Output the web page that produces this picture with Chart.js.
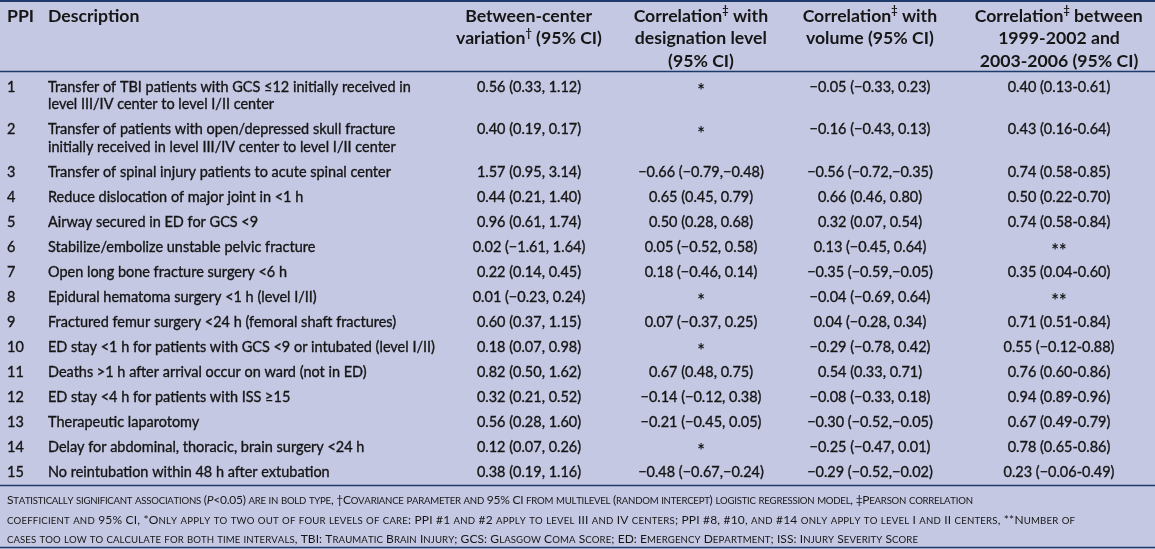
<!DOCTYPE html>
<html>
<head>
<meta charset="utf-8">
<script src="https://cdn.jsdelivr.net/npm/chart.js@4.4.1/dist/chart.umd.min.js"></script>
<style>
  html, body { margin: 0; padding: 0; background: #c5c8e3; overflow: hidden; }
  #wrap { width: 1155px; height: 549px; }
  canvas { display: block; }
</style>
</head>
<body>
<div id="wrap"><canvas id="c" width="1155" height="549"></canvas></div>
<script>
// ---------------- DATA ----------------
const ppiLabels = ['1','2','3','4','5','6','7','8','9','10','11','12','13','14','15'];
const descriptions = [
  'Transfer of TBI patients with GCS \u226412 initially received in\nlevel III/IV center to level I/II center',
  'Transfer of patients with open/depressed skull fracture\ninitially received in level III/IV center to level I/II center',
  'Transfer of spinal injury patients to acute spinal center',
  'Reduce dislocation of major joint in <1 h',
  'Airway secured in ED for GCS <9',
  'Stabilize/embolize unstable pelvic fracture',
  'Open long bone fracture surgery <6 h',
  'Epidural hematoma surgery <1 h (level I/II)',
  'Fractured femur surgery <24 h (femoral shaft fractures)',
  'ED stay <1 h for patients with GCS <9 or intubated (level I/II)',
  'Deaths >1 h after arrival occur on ward (not in ED)',
  'ED stay <4 h for patients with ISS \u226515',
  'Therapeutic laparotomy',
  'Delay for abdominal, thoracic, brain surgery <24 h',
  'No reintubation within 48 h after extubation'
];
const columnHeaders = [
  ['PPI'],
  ['Description'],
  ['Between-center', 'variation\u2020 (95% CI)'],
  ['Correlation\u2021 with', 'designation level', '(95% CI)'],
  ['Correlation\u2021 with', 'volume (95% CI)'],
  ['Correlation\u2021 between', '1999-2002 and', '2003-2006 (95% CI)']
];
const betweenEst = [0.56, 0.40, 1.57, 0.44, 0.96, 0.02, 0.22, 0.01, 0.60, 0.18, 0.82, 0.32, 0.56, 0.12, 0.38];
const betweenLo  = [0.33, 0.19, 0.95, 0.21, 0.61, -1.61, 0.14, -0.23, 0.37, 0.07, 0.50, 0.21, 0.28, 0.07, 0.19];
const betweenHi  = [1.12, 0.17, 3.14, 1.40, 1.74, 1.64, 0.45, 0.24, 1.15, 0.98, 1.62, 0.52, 1.60, 0.26, 1.16];
const designationEst = [null, null, -0.66, 0.65, 0.50, 0.05, 0.18, null, 0.07, null, 0.67, -0.14, -0.21, null, -0.48];
const designationLo  = [null, null, -0.79, 0.45, 0.28, -0.52, -0.46, null, -0.37, null, 0.48, -0.12, -0.45, null, -0.67];
const designationHi  = [null, null, -0.48, 0.79, 0.68, 0.58, 0.14, null, 0.25, null, 0.75, 0.38, 0.05, null, -0.24];
const volumeEst = [-0.05, -0.16, -0.56, 0.66, 0.32, 0.13, -0.35, -0.04, 0.04, -0.29, 0.54, -0.08, -0.30, -0.25, -0.29];
const volumeLo  = [-0.33, -0.43, -0.72, 0.46, 0.07, -0.45, -0.59, -0.69, -0.28, -0.78, 0.33, -0.33, -0.52, -0.47, -0.52];
const volumeHi  = [0.23, 0.13, -0.35, 0.80, 0.54, 0.64, -0.05, 0.64, 0.34, 0.42, 0.71, 0.18, -0.05, 0.01, -0.02];
const periodEst = [0.40, 0.43, 0.74, 0.50, 0.74, null, 0.35, null, 0.71, 0.55, 0.76, 0.94, 0.67, 0.78, 0.23];
const periodLo  = [0.13, 0.16, 0.58, 0.22, 0.58, null, 0.04, null, 0.51, -0.12, 0.60, 0.89, 0.49, 0.65, -0.06];
const periodHi  = [0.61, 0.64, 0.85, 0.70, 0.84, null, 0.60, null, 0.84, 0.88, 0.86, 0.96, 0.79, 0.86, 0.49];
const footnoteLines = [
  'Statistically significant associations (_P_<0.05) are in bold type, \u2020Covariance parameter and 95% CI from multilevel (random intercept) logistic regression model, \u2021Pearson correlation',
  'coefficient and 95% CI, *Only apply to two out of four levels of care: PPI #1 and #2 apply to level III and IV centers; PPI #8, #10, and #14 only apply to level I and II centers, **Number of',
  'cases too low to calculate for both time intervals, TBI: Traumatic Brain Injury; GCS: Glasgow Coma Score; ED: Emergency Department; ISS: Injury Severity Score'
];

// ---------------- LAYOUT / STYLE ----------------
const W = 1155, H = 549;
const BG = '#c5c8e3';
const RULE = '#1d3a6b';
const INK = '#161616';
const FAMILY = 'Lato, "Open Sans", sans-serif';
const colAnchor = [7, 48, 529, 701, 870, 1059];
const colAlign  = ['left', 'left', 'center', 'center', 'center', 'center'];
const headerLineY = [16, 38.5, 61];
const firstRowY = 87, innerLineGap = 17.5, rowGap = 25;
const rules = [{y: 1, w: 2}, {y: 71.5, w: 1.3}, {y: 485.5, w: 1.6}, {y: 547.5, w: 1.6}];
const footBaseline = [504, 523.5, 543];
const footLineWidths = [966, 1068, 911];

function fmt(v) { return (v < 0 ? '\u2212' : '') + Math.abs(v).toFixed(2); }
function ciText(e, lo, hi, missing) {
  if (e === null) return missing;
  return fmt(e) + ' (' + fmt(lo) + ',' + (hi < 0 ? '' : ' ') + fmt(hi) + ')';
}
function rangeText(e, lo, hi, missing) {
  if (e === null) return missing;
  return fmt(e) + ' (' + fmt(lo) + '-' + fmt(hi) + ')';
}

const rowLines = [];
(function () {
  let y = firstRowY;
  descriptions.forEach(d => {
    const n = d.split('\n').length;
    const lines = [];
    for (let k = 0; k < n; k++) lines.push(y + k * innerLineGap);
    rowLines.push(lines);
    y = lines[lines.length - 1] + rowGap;
  });
})();

const cellColumns = [
  i => ppiLabels[i],
  i => descriptions[i],
  i => ciText(betweenEst[i], betweenLo[i], betweenHi[i], '*'),
  i => ciText(designationEst[i], designationLo[i], designationHi[i], '*'),
  i => ciText(volumeEst[i], volumeLo[i], volumeHi[i], '*'),
  i => rangeText(periodEst[i], periodLo[i], periodHi[i], '**')
];

// ---------------- DRAW HELPERS ----------------
function fitSize(ctx, text, target, weight) {
  ctx.font = weight + ' 100px ' + FAMILY;
  return 100 * target / ctx.measureText(text).width;
}
function richWidth(ctx, text, size, weight) {
  let w = 0;
  for (const ch of text) {
    const sup = (ch === '\u2020' || ch === '\u2021');
    ctx.font = weight + ' ' + (sup ? size * 0.62 : size) + 'px ' + FAMILY;
    w += ctx.measureText(ch).width;
  }
  return w;
}
function drawRich(ctx, text, x, y, size, weight, align) {
  const total = richWidth(ctx, text, size, weight);
  let cx = align === 'center' ? x - total / 2 : x;
  ctx.textAlign = 'left';
  let buf = '';
  const flush = () => {
    if (!buf) return;
    ctx.font = weight + ' ' + size + 'px ' + FAMILY;
    ctx.fillText(buf, cx, y);
    cx += ctx.measureText(buf).width;
    buf = '';
  };
  for (const ch of text) {
    if (ch === '\u2020' || ch === '\u2021') {
      flush();
      ctx.font = weight + ' ' + size * 0.62 + 'px ' + FAMILY;
      ctx.fillText(ch, cx, y - size * 0.3);
      cx += ctx.measureText(ch).width;
    } else buf += ch;
  }
  flush();
}
function smallCapsRuns(text) {
  const runs = [];
  text.split('_').forEach((p, idx) => {
    const italic = idx % 2 === 1;
    const re = /([a-z]+)|([^a-z]+)/g; let m;
    while ((m = re.exec(p))) runs.push({t: m[1] ? m[1].toUpperCase() : m[2], small: !!m[1], italic});
  });
  return runs;
}
// returns {width, chars} (natural width without extra spacing); draws when draw=true
function drawSmallCaps(ctx, text, x, y, big, ratio, draw, extra) {
  let cx = x, chars = 0;
  for (const r of smallCapsRuns(text)) {
    ctx.font = (r.italic ? 'italic ' : '') + '400 ' + (r.small ? big * ratio : big) + 'px ' + FAMILY;
    for (const ch of r.t) {
      if (draw) ctx.fillText(ch, cx, y);
      cx += ctx.measureText(ch).width + (extra || 0);
      chars++;
    }
  }
  return {width: cx - x, chars};
}

// ---------------- PLUGIN ----------------
const tablePlugin = {
  id: 'tableText',
  beforeDraw(chart) {
    const ctx = chart.ctx;
    ctx.save();
    ctx.fillStyle = BG;
    ctx.fillRect(0, 0, chart.width, chart.height);
    ctx.restore();
  },
  afterDraw(chart) {
    const ctx = chart.ctx;
    const X = v => chart.scales.x.getPixelForValue(v);
    const Y = v => chart.scales.y.getPixelForValue(v);
    ctx.save();

    ctx.strokeStyle = RULE;
    rules.forEach(r => {
      ctx.lineWidth = r.w;
      ctx.beginPath();
      ctx.moveTo(X(0), Y(r.y));
      ctx.lineTo(X(W), Y(r.y));
      ctx.stroke();
    });

    ctx.fillStyle = INK;
    ctx.strokeStyle = INK;
    ctx.textBaseline = 'middle';

    // header
    const hSize = fitSize(ctx, 'Between-center', 127, '700');
    columnHeaders.forEach((lines, c) => {
      lines.forEach((t, k) => drawRich(ctx, t, X(colAnchor[c]), Y(headerLineY[k]), hSize, '700', colAlign[c]));
    });

    // body
    const bSize = fitSize(ctx, descriptions[9], 387, '400');
    ctx.lineWidth = 0.35;
    descriptions.forEach((d, i) => {
      cellColumns.forEach((fn, c) => {
        const txt = fn(i);
        ctx.textAlign = colAlign[c];
        if (txt === '*' || txt === '**') {
          ctx.font = '700 ' + (bSize * 1.25) + 'px ' + FAMILY;
          ctx.fillText(txt, X(colAnchor[c]), Y(rowLines[i][0]) + bSize * 0.3);
          return;
        }
        ctx.font = '400 ' + bSize + 'px ' + FAMILY;
        txt.split('\n').forEach((t, k) => {
          const px = X(colAnchor[c]), py = Y(rowLines[i][k]);
          ctx.fillText(t, px, py);
          ctx.strokeText(t, px, py);
        });
      });
    });

    // footnote (small caps), common size + per-line tracking
    ctx.textBaseline = 'alphabetic';
    ctx.textAlign = 'left';
    const ratio = 0.8;
    let w100 = 0;
    footnoteLines.forEach(t => { w100 += drawSmallCaps(ctx, t, 0, 0, 100, ratio, false).width; });
    const totalTarget = footLineWidths.reduce((a, b) => a + b, 0);
    const fSize = 100 * totalTarget / w100;
    footnoteLines.forEach((t, k) => {
      const m = drawSmallCaps(ctx, t, 0, 0, fSize, ratio, false);
      const extra = (footLineWidths[k] - m.width) / Math.max(1, m.chars - 1);
      drawSmallCaps(ctx, t, X(7), Y(footBaseline[k]), fSize, ratio, true, extra);
    });

    ctx.restore();
  }
};

new Chart(document.getElementById('c'), {
  type: 'scatter',
  data: { datasets: [{ data: [], pointRadius: 0 }] },
  options: {
    responsive: false,
    animation: false,
    devicePixelRatio: 1,
    layout: { padding: 0 },
    plugins: { legend: { display: false }, tooltip: { enabled: false } },
    scales: {
      x: { type: 'linear', min: 0, max: W, display: false },
      y: { type: 'linear', min: 0, max: H, reverse: true, display: false }
    }
  },
  plugins: [tablePlugin]
});
</script>
</body>
</html>
